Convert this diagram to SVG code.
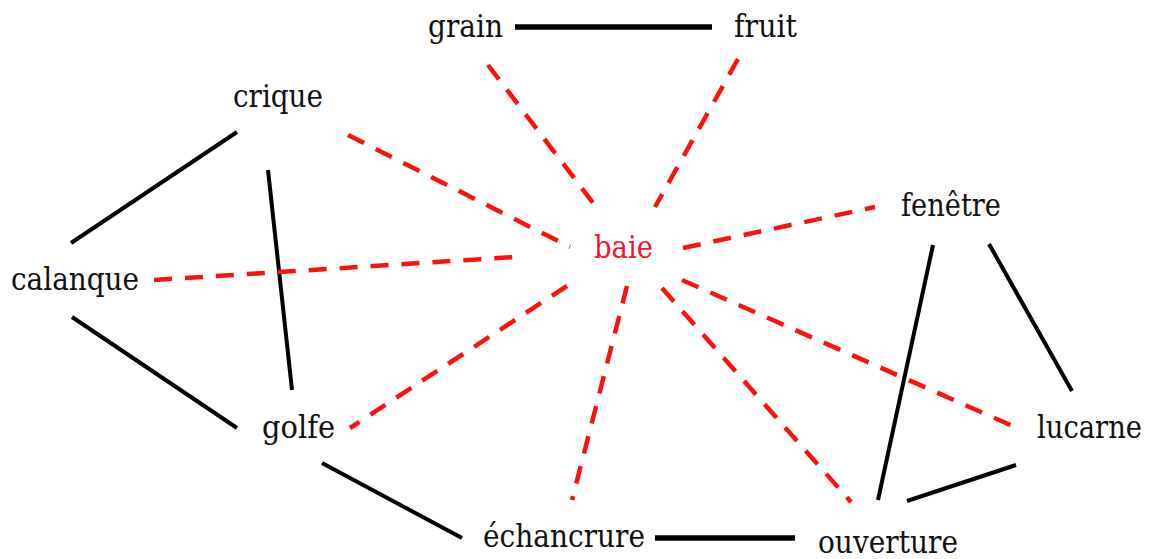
<svg xmlns="http://www.w3.org/2000/svg" width="1156" height="559" viewBox="0 0 1156 559">
<style>
text{font-family:'DejaVu Serif','Noto Serif',serif;font-size:31px;fill:#111}
.red{fill:#f5142a}
.solid{stroke:#000;stroke-width:4;fill:none}
.thick{stroke:#000;stroke-width:5.5;fill:none}
.dash{stroke:#ff1010;stroke-width:4.5;fill:none;stroke-dasharray:18 13}
</style>
<rect width="1156" height="559" fill="#fff"/>
<g id="connectors">
<line class="thick" x1="515" y1="27" x2="712" y2="27"/>
<line class="solid" x1="237" y1="132" x2="71" y2="243"/>
<line class="solid" x1="268" y1="170" x2="292" y2="390"/>
<line class="solid" x1="72" y1="317" x2="237" y2="428"/>
<line class="solid" x1="322" y1="463" x2="462" y2="538"/>
<line class="thick" x1="655" y1="538" x2="795" y2="538"/>
<line class="solid" x1="933" y1="245" x2="878" y2="500"/>
<line class="solid" x1="989" y1="244" x2="1072" y2="391"/>
<line class="solid" x1="907" y1="501" x2="1016" y2="465"/>
<line class="dash" x1="488" y1="65" x2="600" y2="212"/>
<line class="dash" x1="738" y1="59" x2="655" y2="207"/>
<line class="dash" x1="348" y1="135" x2="570" y2="247"/>
<line class="dash" x1="683" y1="248" x2="875" y2="207"/>
<line class="dash" x1="154" y1="280" x2="515" y2="257"/>
<line class="dash" x1="567" y1="286" x2="350" y2="428"/>
<line class="dash" x1="627" y1="286" x2="572" y2="500"/>
<line class="dash" x1="662" y1="288" x2="851" y2="502"/>
<line class="dash" x1="682" y1="280" x2="1015" y2="427"/>
</g>
<g id="grain"><text x="428" y="37" textLength="75" lengthAdjust="spacingAndGlyphs">grain</text></g>
<g id="fruit"><text x="734" y="37" textLength="63" lengthAdjust="spacingAndGlyphs">fruit</text></g>
<g id="crique"><text x="233" y="107" textLength="90" lengthAdjust="spacingAndGlyphs">crique</text></g>
<g id="calanque"><text x="11" y="290" textLength="128" lengthAdjust="spacingAndGlyphs">calanque</text></g>
<g id="baie"><text class="red" x="594" y="258" textLength="59" lengthAdjust="spacingAndGlyphs">baie</text></g>
<g id="fenetre"><text x="901" y="216" textLength="100" lengthAdjust="spacingAndGlyphs">fenêtre</text></g>
<g id="golfe"><text x="262" y="438" textLength="73" lengthAdjust="spacingAndGlyphs">golfe</text></g>
<g id="lucarne"><text x="1037" y="438" textLength="105" lengthAdjust="spacingAndGlyphs">lucarne</text></g>
<g id="echancrure"><text x="483" y="547" textLength="162" lengthAdjust="spacingAndGlyphs">échancrure</text></g>
<g id="ouverture"><text x="818" y="553" textLength="140" lengthAdjust="spacingAndGlyphs">ouverture</text></g>
</svg>
